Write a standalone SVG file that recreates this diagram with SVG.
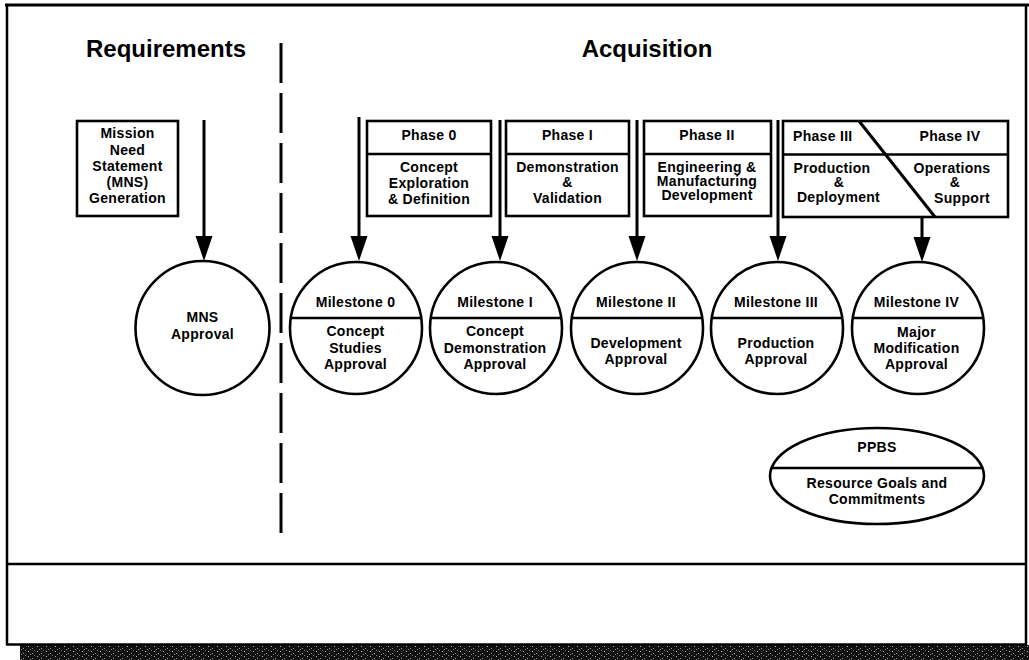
<svg xmlns="http://www.w3.org/2000/svg" width="1029" height="660" viewBox="0 0 1029 660">
<style>
.t{font-family:"Liberation Sans",Arial,sans-serif;font-weight:bold;font-size:14px;letter-spacing:0.3px;text-anchor:middle;fill:#000}
.h{font-family:"Liberation Sans",Arial,sans-serif;font-weight:bold;font-size:24px;text-anchor:middle;fill:#000}
.s{fill:#fff;stroke:#000;stroke-width:2.6}
.ln{stroke:#000;stroke-width:2.6;fill:none}
.ar{stroke:#000;stroke-width:3;fill:none;marker-end:url(#ah)}
</style>
<defs>
<marker id="ah" markerUnits="userSpaceOnUse" markerWidth="26" markerHeight="18" refX="0" refY="8.5" orient="auto">
<path d="M0,0 L25,8.5 L0,17 Z" fill="#000"/>
</marker>
<pattern id="noise" width="9" height="5" patternUnits="userSpaceOnUse">
<rect width="9" height="5" fill="#111"/>
<rect x="1" y="1" width="1" height="1" fill="#bbb"/>
<rect x="5" y="3" width="1" height="1" fill="#999"/>
<rect x="7" y="0" width="1" height="1" fill="#777"/>
<rect x="3" y="4" width="1" height="1" fill="#888"/>
</pattern>
</defs>
<rect width="1029" height="660" fill="#fff"/>
<g id="frame">
<rect x="20" y="645" width="1009" height="15" fill="url(#noise)"/>
<line x1="5" y1="5" x2="1029" y2="5" stroke="#000" stroke-width="3"/>
<line x1="7" y1="4" x2="7" y2="645" stroke="#000" stroke-width="2.5"/>
<line x1="1026" y1="4" x2="1026" y2="646" stroke="#000" stroke-width="2.5"/>
<line x1="6" y1="564" x2="1027" y2="564" stroke="#000" stroke-width="2.5"/>
<line x1="6" y1="644.5" x2="1027" y2="644.5" stroke="#000" stroke-width="2.5"/>
<line x1="281" y1="43" x2="281" y2="538" stroke="#000" stroke-width="3" stroke-dasharray="40 10"/>
<text class="h" x="166" y="57">Requirements</text>
<text class="h" x="647" y="57">Acquisition</text>
</g>
<g id="connectors">
<line class="ar" x1="204" y1="120" x2="204" y2="236"/>
<line class="ar" x1="359" y1="117" x2="359" y2="236"/>
<line class="ar" x1="500" y1="120" x2="500" y2="236"/>
<line class="ar" x1="637" y1="120" x2="637" y2="236"/>
<line class="ar" x1="778" y1="120" x2="778" y2="236"/>
<line class="ar" x1="922" y1="217" x2="922" y2="237"/>
</g>
<g id="mns-box">
<rect class="s" x="77" y="121" width="101" height="95"/>
<text class="t" x="127.5" y="138">Mission</text>
<text class="t" x="127.5" y="154.5">Need</text>
<text class="t" x="127.5" y="171">Statement</text>
<text class="t" x="127.5" y="187">(MNS)</text>
<text class="t" x="127.5" y="203">Generation</text>
</g>
<g id="phase0">
<rect class="s" x="367" y="121" width="124" height="95"/>
<line class="ln" x1="367" y1="154" x2="491" y2="154"/>
<text class="t" x="429" y="140">Phase 0</text>
<text class="t" x="429" y="172">Concept</text>
<text class="t" x="429" y="188">Exploration</text>
<text class="t" x="429" y="204">&amp; Definition</text>
</g>
<g id="phase1">
<rect class="s" x="506" y="121" width="123" height="95"/>
<line class="ln" x1="506" y1="154" x2="629" y2="154"/>
<text class="t" x="567.5" y="140">Phase I</text>
<text class="t" x="567.5" y="172">Demonstration</text>
<text class="t" x="567.5" y="187">&amp;</text>
<text class="t" x="567.5" y="203">Validation</text>
</g>
<g id="phase2">
<rect class="s" x="644" y="121" width="127" height="95"/>
<line class="ln" x1="644" y1="154" x2="771" y2="154"/>
<text class="t" x="707" y="140">Phase II</text>
<text class="t" x="707" y="172">Engineering &amp;</text>
<text class="t" x="707" y="186">Manufacturing</text>
<text class="t" x="707" y="199.5">Development</text>
</g>
<g id="phase34">
<rect class="s" x="783" y="121" width="225" height="96"/>
<line class="ln" x1="783" y1="154.5" x2="1008" y2="154.5"/>
<line x1="859" y1="121" x2="935" y2="217" stroke="#000" stroke-width="3"/>
<text class="t" x="793" y="141" style="text-anchor:start">Phase III</text>
<text class="t" x="950" y="141">Phase IV</text>
<text class="t" x="832" y="173">Production</text>
<text class="t" x="839" y="187">&amp;</text>
<text class="t" x="838.5" y="202">Deployment</text>
<text class="t" x="952" y="173">Operations</text>
<text class="t" x="955" y="187">&amp;</text>
<text class="t" x="962" y="203">Support</text>
</g>
<g id="mns-approval">
<circle class="s" cx="202.5" cy="328" r="67"/>
<text class="t" x="202.5" y="322">MNS</text>
<text class="t" x="202.5" y="339">Approval</text>
</g>
<g id="milestone0">
<circle class="s" cx="356" cy="328" r="66"/>
<line class="ln" x1="290.8" y1="318" x2="421.2" y2="318"/>
<text class="t" x="355.5" y="307">Milestone 0</text>
<text class="t" x="355.5" y="336">Concept</text>
<text class="t" x="355.5" y="352.5">Studies</text>
<text class="t" x="355.5" y="369">Approval</text>
</g>
<g id="milestone1">
<circle class="s" cx="496" cy="328" r="66"/>
<line class="ln" x1="430.8" y1="318" x2="561.2" y2="318"/>
<text class="t" x="495" y="307">Milestone I</text>
<text class="t" x="495" y="336">Concept</text>
<text class="t" x="495" y="352.5">Demonstration</text>
<text class="t" x="495" y="369">Approval</text>
</g>
<g id="milestone2">
<circle class="s" cx="637" cy="328" r="66"/>
<line class="ln" x1="571.8" y1="318" x2="702.2" y2="318"/>
<text class="t" x="636" y="307">Milestone II</text>
<text class="t" x="636" y="348">Development</text>
<text class="t" x="636" y="364">Approval</text>
</g>
<g id="milestone3">
<circle class="s" cx="777" cy="328" r="66"/>
<line class="ln" x1="711.8" y1="318" x2="842.2" y2="318"/>
<text class="t" x="776" y="307">Milestone III</text>
<text class="t" x="776" y="348">Production</text>
<text class="t" x="776" y="364">Approval</text>
</g>
<g id="milestone4">
<circle class="s" cx="918" cy="328" r="66"/>
<line class="ln" x1="852.8" y1="318" x2="983.2" y2="318"/>
<text class="t" x="916.5" y="307">Milestone IV</text>
<text class="t" x="916.5" y="337">Major</text>
<text class="t" x="916.5" y="353">Modification</text>
<text class="t" x="916.5" y="369">Approval</text>
</g>
<g id="ppbs">
<ellipse class="s" cx="877" cy="476" rx="107" ry="48"/>
<line class="ln" x1="771.5" y1="468" x2="982.5" y2="468"/>
<text class="t" x="877" y="452">PPBS</text>
<text class="t" x="877" y="488">Resource Goals and</text>
<text class="t" x="877" y="503.5">Commitments</text>
</g>
</svg>
